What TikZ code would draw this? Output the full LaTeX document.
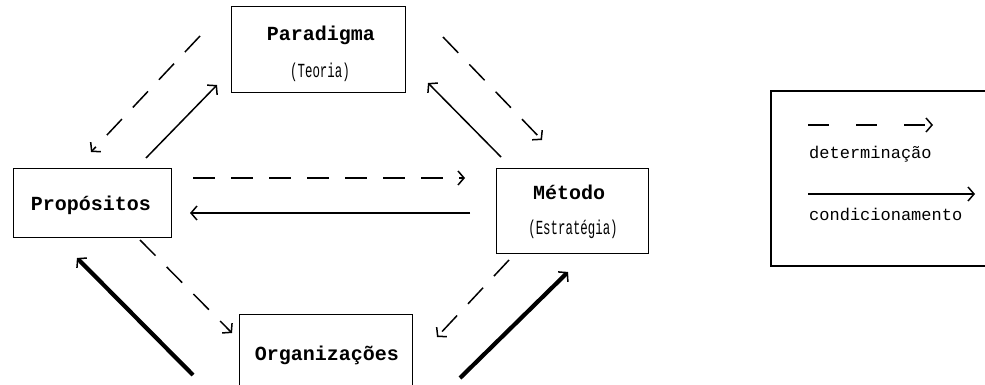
\documentclass[tikz,border=0pt]{standalone}
\usepackage{fontspec}
\setmainfont{Liberation Mono}
\usetikzlibrary{arrows.meta}
\newcommand{\narrowtext}[1]{\scalebox{0.62}[1]{#1}}
\tikzset{
  x=1pt, y=-1pt,
  box/.style={draw, line width=0.9pt, inner sep=0pt},
  title/.style={font=\bfseries\fontsize{20}{20}\selectfont, anchor=base, inner sep=0pt},
  subtitle/.style={font=\fontsize{20}{20}\selectfont, anchor=base, inner sep=0pt},
  legtext/.style={font=\fontsize{17}{17}\selectfont, anchor=base west, inner sep=0pt},
  tip/.style={-{Straight Barb[length=6pt,width=14pt,line width=1.5pt]}},
  detarrow/.style={tip, line width=1.5pt, dash pattern=on 22pt off 16pt},
  condarrow/.style={tip, line width=1.5pt},
  strongarrow/.style={tip, line width=4.2pt}
}
\begin{document}
\begin{tikzpicture}
\useasboundingbox (0,0) rectangle (985,385);
% boxes
\node[box, minimum width=174pt, minimum height=86pt] (par) at (318,49) {};
\node[box, minimum width=158pt, minimum height=69pt] (pro) at (92,202.5) {};
\node[box, minimum width=152pt, minimum height=85pt] (met) at (572,210.5) {};
\node[box, minimum width=173pt, minimum height=86pt] (org) at (325.5,357) {};
\node[box, line width=2pt, minimum width=219pt, minimum height=175pt] (leg) at (880.5,178.5) {};
% texts
\node[title] (partitle) at (321,41) {Paradigma};
\node[subtitle] (parsub) at (320,78) {\narrowtext{(Teoria)}};
\node[title] (protitle) at (91,210) {Propósitos};
\node[title] (mettitle) at (569,199) {Método};
\node[subtitle] (metsub) at (573,234) {\narrowtext{(Estratégia)}};
\node[title] (orgtitle) at (327,360) {Organizações};
\node[legtext] (legdet) at (809,158) {determinação};
\node[legtext] (legcond) at (809,220) {condicionamento};
% connector end points
\coordinate (pa1) at (200,36);  \coordinate (pr1) at (91,152);
\coordinate (pr2) at (146,158); \coordinate (pa2) at (217,85);
\coordinate (pa3) at (443,37);  \coordinate (me3) at (542,140);
\coordinate (me4) at (501,157); \coordinate (pa4) at (428,83);
\coordinate (pr5) at (193,178); \coordinate (me5) at (465,178);
\coordinate (me6) at (470,213); \coordinate (pr6) at (190,213);
\coordinate (pr7) at (140,240); \coordinate (or7) at (232,333);
\coordinate (or8) at (193,375); \coordinate (pr8) at (77,258);
\coordinate (me9) at (509,260); \coordinate (or9) at (437,337);
\coordinate (or10) at (460,378); \coordinate (me10) at (568,272);
\coordinate (ld1) at (808,125); \coordinate (ld2) at (933,125);
\coordinate (lc1) at (808,194); \coordinate (lc2) at (975,194);
% connectors
\draw[detarrow] (pa1) -- (pr1);
\draw[condarrow] (pr2) -- (pa2);
\draw[detarrow] (pa3) -- (me3);
\draw[condarrow] (me4) -- (pa4);
\draw[detarrow] (pr5) -- (me5);
\draw[condarrow] (me6) -- (pr6);
\draw[detarrow] (pr7) -- (or7);
\draw[strongarrow] (or8) -- (pr8);
\draw[detarrow] (me9) -- (or9);
\draw[strongarrow] (or10) -- (me10);
% legend
\draw[tip, line width=1.5pt, dash pattern=on 21pt off 27pt] (ld1) -- (ld2);
\draw[condarrow] (lc1) -- (lc2);
\end{tikzpicture}
\end{document}
